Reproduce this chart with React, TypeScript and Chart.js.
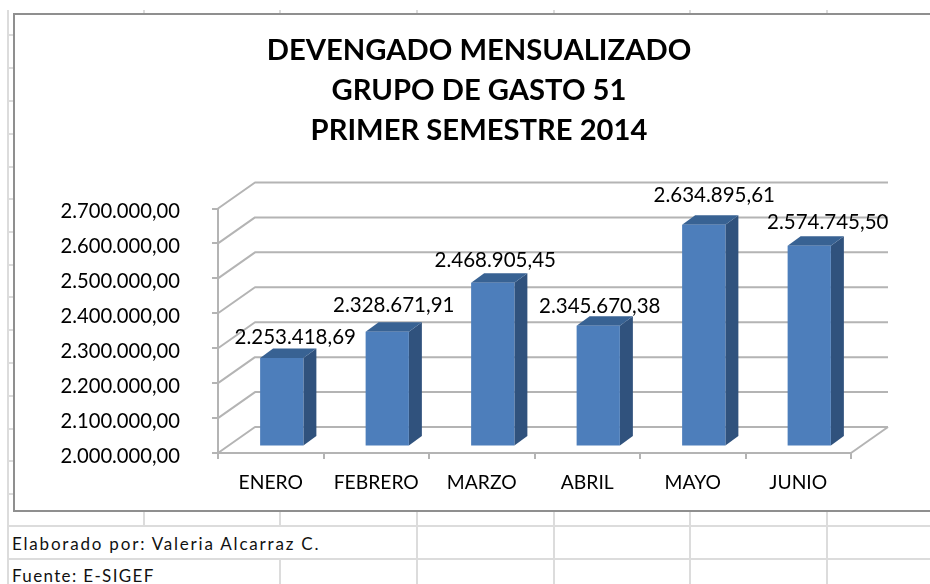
import React, { useEffect, useRef } from "react";
import { Chart, registerables } from "chart.js";

Chart.register(...registerables);

const categories = ["ENERO", "FEBRERO", "MARZO", "ABRIL", "MAYO", "JUNIO"];
const devengado = [2253418.69, 2328671.91, 2468905.45, 2345670.38, 2634895.61, 2574745.5];
const titleLines = ["DEVENGADO MENSUALIZADO", "GRUPO DE GASTO 51", "PRIMER SEMESTRE 2014"];
const footerLines = ["Elaborado por: Valeria Alcarraz C.", "Fuente: E-SIGEF"];
const labelNudgeX = [24.5, 17.5, 13.5, 12.5, 21.5, 29.5];
const labelNudgeY = [-27, -33, -29, -26, -36, -30];

const FONT = "Lato, 'Noto Sans', sans-serif";
const GRID = "#b4b4b4";
const CELL = "#dcdcdc";
const BACK_X = 37;
const BACK_Y = -26;
const BAR_SHIFT_X = 11;
const BAR_SHIFT_Y = -6.5;
const SIDE_X = 13;
const SIDE_Y = -9.5;

const fmt = (v: number) =>
  new Intl.NumberFormat("de-DE", { minimumFractionDigits: 2, maximumFractionDigits: 2 }).format(v);

const box3d = {
  id: "box3d",
  beforeDraw(chart: any) {
    const y = chart.scales.y;
    // the labels reach left of the scale box, so they must not be clipped to it
    y._computeLabelArea = () => undefined;
    // Lato sits higher than the reference face: lower the value-axis labels a little
    for (const item of y.getLabelItems(chart.chartArea)) {
      if (!item.__moved) {
        item.options.translation[1] += 3;
        item.__moved = true;
      }
    }
  },
  beforeDatasetsDraw(chart: any) {
    const { ctx, chartArea, scales } = chart;
    ctx.save();
    ctx.strokeStyle = GRID;
    ctx.lineWidth = 2;
    ctx.lineJoin = "round";
    for (const t of scales.y.ticks) {
      const y = scales.y.getPixelForValue(t.value);
      ctx.beginPath();
      ctx.moveTo(chartArea.left, y);
      ctx.lineTo(chartArea.left + BACK_X, y + BACK_Y);
      ctx.lineTo(chartArea.right + BACK_X, y + BACK_Y);
      ctx.stroke();
    }
    ctx.beginPath();
    ctx.moveTo(chartArea.right + BACK_X, chartArea.bottom + BACK_Y);
    ctx.lineTo(chartArea.right, chartArea.bottom);
    ctx.stroke();
    ctx.restore();

    const meta = chart.getDatasetMeta(0);
    ctx.save();
    ctx.translate(BAR_SHIFT_X, BAR_SHIFT_Y);
    for (const bar of meta.data) {
      const l = bar.x - bar.width / 2;
      const r = bar.x + bar.width / 2;
      ctx.fillStyle = "#30527d";
      ctx.beginPath();
      ctx.moveTo(r, bar.y);
      ctx.lineTo(r + SIDE_X, bar.y + SIDE_Y);
      ctx.lineTo(r + SIDE_X, bar.base + SIDE_Y);
      ctx.lineTo(r, bar.base);
      ctx.closePath();
      ctx.fill();
      ctx.fillStyle = "#386293";
      ctx.beginPath();
      ctx.moveTo(l, bar.y);
      ctx.lineTo(l + SIDE_X, bar.y + SIDE_Y);
      ctx.lineTo(r + SIDE_X, bar.y + SIDE_Y);
      ctx.lineTo(r, bar.y);
      ctx.closePath();
      ctx.fill();
    }
    ctx.restore();
    // the bars themselves stand in the middle of the floor's depth
    ctx.save();
    ctx.translate(BAR_SHIFT_X, BAR_SHIFT_Y);
  },
  afterDatasetsDraw(chart: any) {
    const { ctx } = chart;
    ctx.restore();
    const meta = chart.getDatasetMeta(0);
    ctx.save();
    ctx.font = `20.5px ${FONT}`;
    ctx.fillStyle = "#000";
    ctx.textAlign = "center";
    ctx.textBaseline = "middle";
    meta.data.forEach((bar: any, i: number) => {
      ctx.fillText(fmt(devengado[i]), bar.x + labelNudgeX[i], bar.y + labelNudgeY[i]);
    });
    ctx.restore();
  },
};

const hLines = [35, 68, 101, 134, 167, 199, 232, 265, 297, 330, 363, 396, 429, 461, 494];
const vCols = [144, 280, 417, 554, 690, 827];
const footerSpacing = [1.8, 1.35];

export default function App() {
  const ref = useRef<HTMLCanvasElement>(null);
  useEffect(() => {
    const chart = new Chart(ref.current as HTMLCanvasElement, {
      type: "bar",
      data: {
        labels: categories,
        datasets: [
          {
            label: "Devengado",
            data: devengado,
            base: 2000000,
            backgroundColor: "#4d7ebb",
            borderWidth: 0,
            barPercentage: 0.41,
            categoryPercentage: 1,
          },
        ],
      },
      options: {
        responsive: false,
        animation: false,
        devicePixelRatio: 1,
        layout: { padding: { left: 93, right: 93, top: 0, bottom: 0 } },
        plugins: {
          legend: { display: false },
          tooltip: { enabled: false },
          title: {
            display: true,
            text: titleLines,
            color: "#000",
            font: { family: FONT, size: 29.2, weight: "bold", lineHeight: 40 / 29.2 },
            padding: { top: 17, bottom: 57.5 },
          },
        },
        scales: {
          x: {
            afterFit: (s: any) => {
              s.height = 58;
            },
            grid: {
              drawOnChartArea: false,
              color: GRID,
              lineWidth: 2,
              tickLength: 6,
              offset: true,
            },
            border: { color: GRID, width: 2 },
            ticks: { color: "#000", font: { family: FONT, size: 19.3 }, padding: 12, maxRotation: 0, autoSkip: false },
          },
          y: {
            min: 2000000,
            max: 2700000,
            afterFit: (s: any) => {
              s.width = 111;
            },
            grid: { drawOnChartArea: false, color: GRID, lineWidth: 2, tickLength: 6 },
            border: { color: GRID, width: 2 },
            ticks: {
              stepSize: 100000,
              color: "#000",
              padding: 32,
              font: { family: FONT, size: 20.2 },
              callback: (v: any) => fmt(Number(v)),
            },
          },
        },
      } as any,
      plugins: [box3d],
    });
    return () => chart.destroy();
  }, []);

  const line = (s: React.CSSProperties, k: string) => (
    <div key={k} style={{ position: "absolute", background: CELL, ...s }} />
  );
  return (
    <div
      style={{
        position: "relative",
        width: 930,
        height: 584,
        overflow: "hidden",
        background: "#fff",
        filter: "blur(0.45px)",
      }}
    >
      <style>{"html,body{margin:0;overflow:hidden;background:#fff}"}</style>
      {line({ left: 6.5, top: 10, width: 2, height: 574 }, "left")}
      {hLines.map((y) => line({ left: 7, top: y - 1, width: 8, height: 2 }, `h${y}`))}
      {line({ left: 7, top: 525, width: 923, height: 2 }, "r1")}
      {line({ left: 7, top: 558, width: 923, height: 2 }, "r2")}
      {vCols.map((x) => line({ left: x - 1, top: 10, width: 2, height: 5 }, `t${x}`))}
      {vCols.map((x) => {
        if (x === 144) return line({ left: x - 1, top: 511, width: 2, height: 15 }, `b${x}`);
        if (x === 280)
          return (
            <React.Fragment key={`b${x}`}>
              {line({ left: x - 1, top: 511, width: 2, height: 15 }, "a")}
              {line({ left: x - 1, top: 559, width: 2, height: 25 }, "b")}
            </React.Fragment>
          );
        return line({ left: x - 1, top: 511, width: 2, height: 73 }, `b${x}`);
      })}
      <canvas
        ref={ref}
        width={930}
        height={497}
        style={{ position: "absolute", left: 14, top: 14, display: "block", outline: "2px solid #8f8f8f", outlineOffset: -1 }}
      />
      {footerLines.map((t, i) => (
        <div
          key={t}
          style={{
            position: "absolute",
            left: 12,
            top: i === 0 ? 533 : 565,
            font: `17px/22px ${FONT}`,
            letterSpacing: `${footerSpacing[i]}px`,
            color: "#111",
            whiteSpace: "nowrap",
          }}
        >
          {t}
        </div>
      ))}
    </div>
  );
}
